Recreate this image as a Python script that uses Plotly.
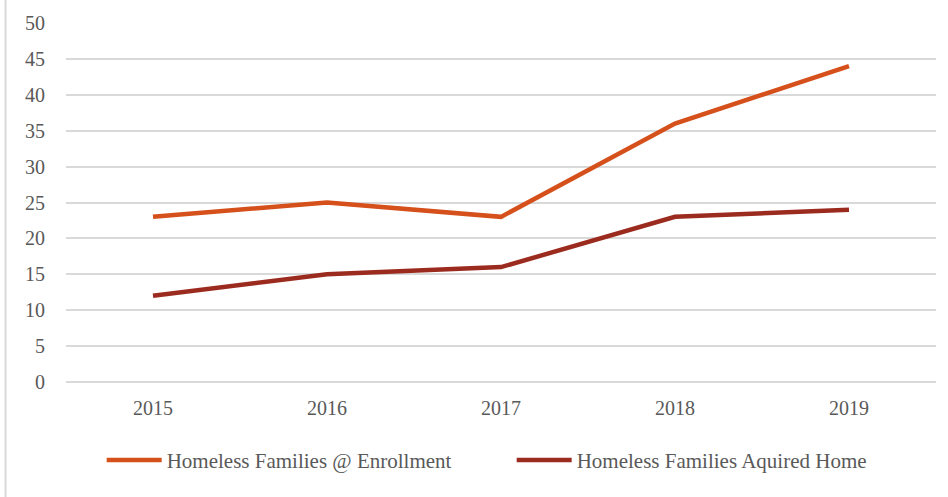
import plotly.graph_objects as go

years = ["2015", "2016", "2017", "2018", "2019"]
enrollment = [23, 25, 23, 36, 44]
aquired = [12, 15, 16, 23, 24]
series_names = ["Homeless Families @ Enrollment", "Homeless Families Aquired Home"]
colors = ["#D5501B", "#9C2B1F"]

fig = go.Figure()
for name, vals, col in zip(series_names, [enrollment, aquired], colors):
    fig.add_trace(go.Scatter(x=years, y=vals, name=name, mode="lines",
                             line=dict(color=col, width=4.5)))

font = dict(family="Liberation Serif, serif", size=20, color="#595959")
legfont = dict(family="Liberation Serif, serif", size=21, color="#595959")
fig.update_layout(
    width=948, height=497,
    margin=dict(l=66, r=12, t=19, b=115),
    paper_bgcolor="white", plot_bgcolor="white",
    font=font,
    showlegend=True,
    legend=dict(orientation="h", x=0.041, xanchor="left", y=-0.218, yanchor="middle",
                font=legfont, itemwidth=55, entrywidth=340, entrywidthmode="pixels"),
    xaxis=dict(type="category", range=[-0.5, 4.5], showgrid=False, showline=False,
               ticks="", tickfont=font, ticklabelstandoff=12),
    yaxis=dict(range=[0, 50], dtick=5, showgrid=True, gridcolor="#D9D9D9", gridwidth=1.5,
               zeroline=True, zerolinecolor="#D9D9D9", zerolinewidth=1.5,
               showline=False, ticks="", tickfont=font, ticklabelstandoff=20),
    shapes=[dict(type="line", xref="paper", yref="paper", x0=-0.0695, x1=-0.0695,
                 y0=-0.4, y1=1.1, line=dict(color="#D9D9D9", width=2))],
)
fig.write_html("out.html", post_script="document.body.style.margin='0';",
               config={"displayModeBar": False})
